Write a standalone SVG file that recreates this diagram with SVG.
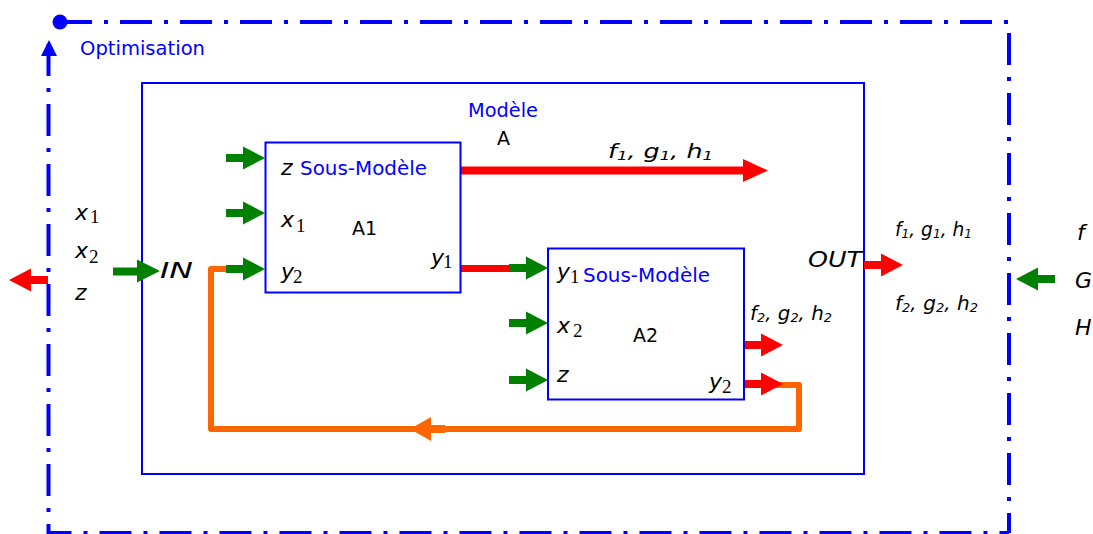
<svg xmlns="http://www.w3.org/2000/svg" width="1093" height="534" viewBox="0 0 1093 534">
<style>
.blue{fill:#0000ff;font-family:"DejaVu Sans","Liberation Sans",sans-serif;}
.v{fill:#000;font-family:"DejaVu Sans","Liberation Sans",sans-serif;font-style:italic;font-size:22px;}
.n{fill:#000;font-family:"DejaVu Sans","Liberation Sans",sans-serif;font-size:19px;}
.s{font-family:"Liberation Serif","DejaVu Serif",serif;font-style:normal;font-size:19px;}
.f{font-size:20px;}
.fs{font-size:13px;}
.box{fill:none;stroke:#0000ff;stroke-width:2;}
.dd{fill:none;stroke:#0000ff;stroke-width:4;stroke-dasharray:32 12 4 12;}
.grn{fill:#008000;}
.red{fill:#ff0000;}
.org{fill:#ff6600;}
</style>
<defs>
<path id="arr" d="M0,-4 H17 V-11.5 L39,0 L17,11.5 V4 H0 Z"/>
</defs>
<rect width="1093" height="534" fill="#fff"/>

<g id="optimisation">
<path class="dd" d="M60,22 H1009 V533"/>
<path class="dd" d="M48.5,44 V533 H1009"/>
<circle cx="60" cy="22" r="7.5" fill="#0000ff"/>
<polygon points="49,40 57,56 41,56" fill="#0000ff"/>
<text class="blue" x="80" y="55" font-size="20" textLength="125" lengthAdjust="spacingAndGlyphs">Optimisation</text>
</g>

<g id="modele">
<rect x="142" y="83" width="722" height="391" fill="none" stroke="#0000ff" stroke-width="2"/>
<text class="blue" x="468" y="117" font-size="19" textLength="70" lengthAdjust="spacingAndGlyphs">Modèle</text>
<text class="n" x="497" y="145">A</text>
</g>

<g id="connectors">
<path d="M768,385 H799 V429 H211 V269 H232" fill="none" stroke="#ff6600" stroke-width="6" stroke-linejoin="round"/>
<path class="org" d="M445,425 H431 V417 L410,429 L431,441 V433 H445 Z"/>
<path class="red" d="M461,166.5 H743 V159 L768,170.5 L743,182 V174.5 H461 Z"/>
<rect class="red" x="461" y="265" width="52" height="7"/>
<path class="grn" d="M113,267.5 H137 V259.5 L160,271 L137,282.5 V275.5 H113 Z"/>
<use href="#arr" class="grn" transform="translate(226,158)"/>
<use href="#arr" class="grn" transform="translate(226,213)"/>
<use href="#arr" class="grn" transform="translate(226,269)"/>
<use href="#arr" class="grn" transform="translate(509,268)"/>
<use href="#arr" class="grn" transform="translate(509,323)"/>
<use href="#arr" class="grn" transform="translate(509,380)"/>
<use href="#arr" class="red" transform="translate(744,345)"/>
<use href="#arr" class="red" transform="translate(744,384)"/>
<use href="#arr" class="red" transform="translate(864,265)"/>
<use href="#arr" class="red" transform="translate(48,280) scale(-1,1)"/>
<use href="#arr" class="grn" transform="translate(1055,279) scale(-1,1)"/>
</g>

<g id="sous-modele-a1">
<rect class="box" x="265.5" y="142.5" width="195" height="150"/>
<text class="v" x="281" y="175">z</text>
<text class="blue" x="300" y="175" font-size="19" textLength="127" lengthAdjust="spacingAndGlyphs">Sous-Modèle</text>
<text class="v" x="281" y="227">x<tspan class="s" x="296" y="232">1</tspan></text>
<text class="n" x="352" y="235">A1</text>
<text class="v" x="431" y="265">y<tspan class="s" x="443" y="268">1</tspan></text>
<text class="v" x="281" y="279">y<tspan class="s" x="293" y="283">2</tspan></text>
</g>

<g id="sous-modele-a2">
<rect class="box" x="548" y="248.5" width="196" height="151"/>
<text class="v" x="557" y="279">y<tspan class="s" x="570" y="283">1</tspan></text>
<text class="blue" x="583" y="282" font-size="19" textLength="127" lengthAdjust="spacingAndGlyphs">Sous-Modèle</text>
<text class="v" x="557" y="333">x<tspan class="s" x="573" y="337">2</tspan></text>
<text class="n" x="633" y="342">A2</text>
<text class="v" x="557" y="382">z</text>
<text class="v" x="709" y="389">y<tspan class="s" x="722" y="393">2</tspan></text>
</g>

<g id="labels">
<text class="v" x="75" y="220">x<tspan class="s" x="90" y="223">1</tspan></text>
<text class="v" x="75" y="258">x<tspan class="s" x="89" y="263">2</tspan></text>
<text class="v" x="75" y="300">z</text>
<text class="v" x="160" y="278" font-size="21" textLength="33" lengthAdjust="spacingAndGlyphs">IN</text>
<text class="v" x="808" y="267" font-size="21" textLength="54" lengthAdjust="spacingAndGlyphs">OUT</text>
<text class="v f" x="608" y="158" textLength="105" lengthAdjust="spacingAndGlyphs">f<tspan class="fs" dy="2">1</tspan><tspan dy="-2">, g</tspan><tspan class="fs" dy="2">1</tspan><tspan dy="-2">, h</tspan><tspan class="fs" dy="2">1</tspan></text>
<text class="v f" x="750" y="320" textLength="82" lengthAdjust="spacingAndGlyphs">f<tspan class="fs" dy="2">2</tspan><tspan dy="-2">, g</tspan><tspan class="fs" dy="2">2</tspan><tspan dy="-2">, h</tspan><tspan class="fs" dy="2">2</tspan></text>
<text class="v f" x="895" y="236" textLength="77" lengthAdjust="spacingAndGlyphs">f<tspan class="fs" dy="2">1</tspan><tspan dy="-2">, g</tspan><tspan class="fs" dy="2">1</tspan><tspan dy="-2">, h</tspan><tspan class="fs" dy="2">1</tspan></text>
<text class="v f" x="895" y="310" textLength="83" lengthAdjust="spacingAndGlyphs">f<tspan class="fs" dy="2">2</tspan><tspan dy="-2">, g</tspan><tspan class="fs" dy="2">2</tspan><tspan dy="-2">, h</tspan><tspan class="fs" dy="2">2</tspan></text>
<text class="v" x="1077" y="240">f</text>
<text class="v" x="1075" y="288">G</text>
<text class="v" x="1075" y="335">H</text>
</g>
</svg>
